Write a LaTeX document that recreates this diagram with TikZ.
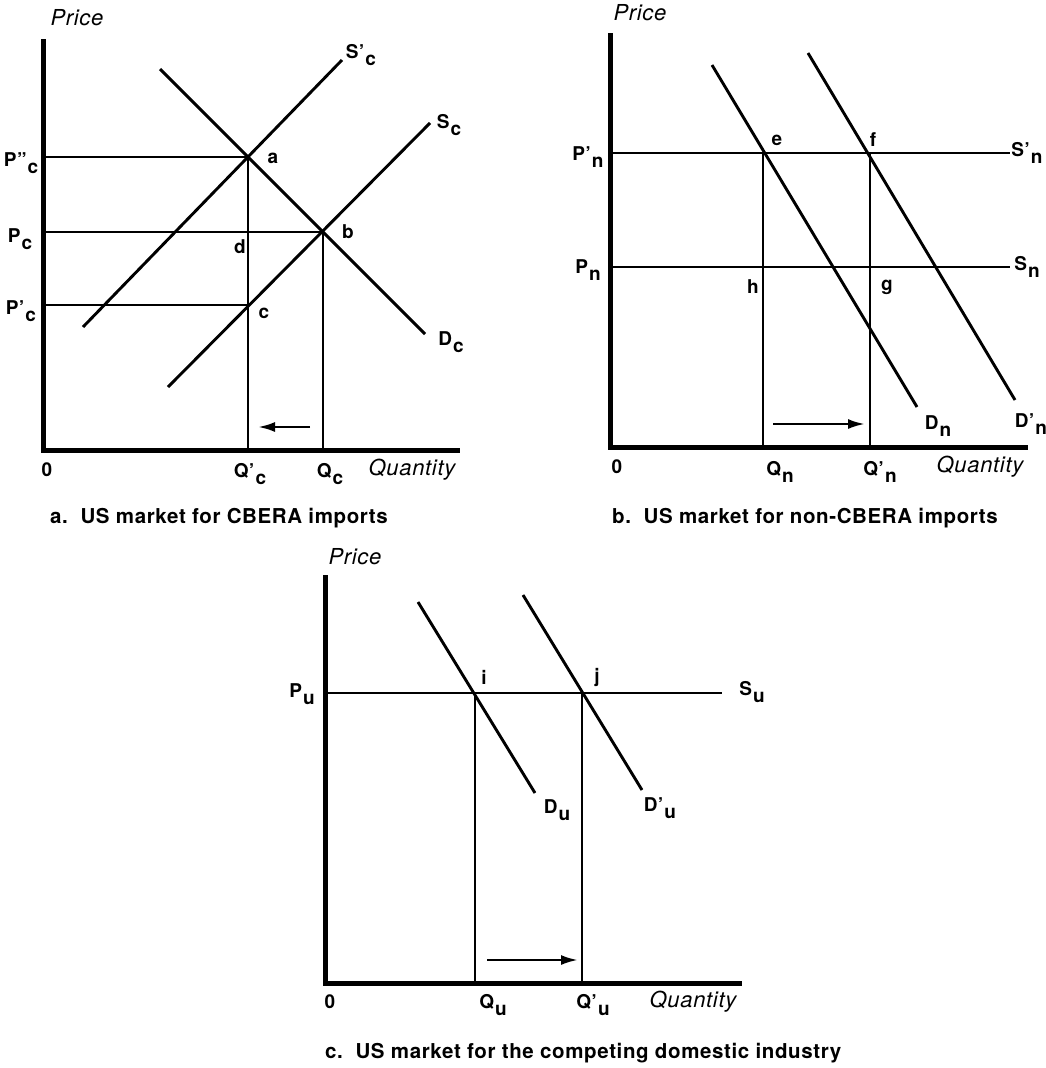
\documentclass[tikz,border=0pt]{standalone}
\usepackage{fontspec}
\setmainfont[LetterSpace=3]{TeX Gyre Heros}
\usetikzlibrary{arrows.meta}
\tikzset{
  axis/.style={line width=5pt, line join=miter},
  curve/.style={line width=2.9pt},
  guide/.style={line width=2.7pt},
  shiftarrow/.style={line width=2.6pt, -{Latex[length=17pt,width=10pt]}},
  ptlabel/.style={font=\fontsize{19}{21}\selectfont\bfseries, inner sep=0pt},
  axlabel/.style={font=\fontsize{22}{24}\selectfont\itshape, inner sep=0pt},
  caption/.style={font=\fontsize{20.5}{23}\selectfont\bfseries, anchor=west, inner sep=0pt}
}
\newcommand\sub[1]{\kern1pt\raisebox{-0.7ex}{#1}}

\begin{document}
\begin{tikzpicture}[x=1pt,y=-1pt]
  \path[use as bounding box] (0,0) rectangle (1045,1068);

  % a. CBERA imports
  \coordinate (Oa) at (43,450);
  \coordinate (Ya) at (43,39);
  \coordinate (Xa) at (460,450);
  \coordinate (a) at (248,157);
  \coordinate (b) at (323,232);
  \coordinate (c) at (249,305);
  \coordinate (Dc1) at (160,69);  \coordinate (Dc2) at (425,334);
  \coordinate (Sca1) at (83,327); \coordinate (Sca2) at (342,60);
  \coordinate (Sc1) at (168,387); \coordinate (Sc2) at (430,123);
  \coordinate (arA1) at (310,427); \coordinate (arA2) at (258,427);

  \draw[axis] (Ya) -- (Oa) -- (Xa);
  \draw[curve] (Dc1) -- (Dc2);
  \draw[curve] (Sca1) -- (Sca2);
  \draw[curve] (Sc1) -- (Sc2);
  \draw[guide] (Oa |- a) -- (a) -- (a |- Oa);
  \draw[guide] (Oa |- b) -- (b) -- (b |- Oa);
  \draw[guide] (Oa |- c) -- (c);
  \draw[shiftarrow] (arA1) -- (arA2);

  \node[axlabel] (priceA) at (77,18) {Price};
  \node[axlabel] (qtyA) at (412,470) {Quantity};
  \node[ptlabel] (zeroA) at (47,470) {0};
  \node[ptlabel] (Ppp) at (21,163) {P"\sub{c}};
  \node[ptlabel] (Pc) at (20,239) {P\sub{c}};
  \node[ptlabel] (Pp) at (21,311) {P'\sub{c}};
  \node[ptlabel] (Qp) at (250,474) {Q'\sub{c}};
  \node[ptlabel] (Qc) at (330,474) {Q\sub{c}};
  \node[ptlabel] (la) at (273,158) {a};
  \node[ptlabel] (lb) at (348,232) {b};
  \node[ptlabel] (lc) at (264,313) {c};
  \node[ptlabel] (ld) at (240,247) {d};
  \node[ptlabel] (lSp) at (361,55) {S'\sub{c}};
  \node[ptlabel] (lS) at (449,125) {S\sub{c}};
  \node[ptlabel] (lD) at (451,342) {D\sub{c}};
  \node[caption] (capA) at (50,518) {a.\ \ US market for CBERA imports};

  % b. non-CBERA imports
  \coordinate (Ob) at (610,447);
  \coordinate (Yb) at (610,33);
  \coordinate (Xb) at (1028,447);
  \coordinate (e) at (763,153);
  \coordinate (f) at (870,153);
  \coordinate (h) at (763,267);
  \coordinate (g) at (870,267);
  \coordinate (Snp) at (1010,153);
  \coordinate (Sn) at (1010,267);
  \coordinate (Dn1) at (712,65);  \coordinate (Dn2) at (917,407);
  \coordinate (Dnp1) at (808,53); \coordinate (Dnp2) at (1015,400);
  \coordinate (arB1) at (773,424); \coordinate (arB2) at (865,424);

  \draw[axis] (Yb) -- (Ob) -- (Xb);
  \draw[curve] (Dn1) -- (Dn2);
  \draw[curve] (Dnp1) -- (Dnp2);
  \draw[guide] (Ob |- Snp) -- (Snp);
  \draw[guide] (Ob |- Sn) -- (Sn);
  \draw[guide] (e) -- (e |- Ob);
  \draw[guide] (f) -- (f |- Ob);
  \draw[shiftarrow] (arB1) -- (arB2);

  \node[axlabel] (priceB) at (640,13) {Price};
  \node[axlabel] (qtyB) at (980,467) {Quantity};
  \node[ptlabel] (zeroB) at (617,467) {0};
  \node[ptlabel] (Pnp) at (588,157) {P'\sub{n}};
  \node[ptlabel] (Pn) at (588,270) {P\sub{n}};
  \node[ptlabel] (Qn) at (780,472) {Q\sub{n}};
  \node[ptlabel] (Qnp) at (880,472) {Q'\sub{n}};
  \node[ptlabel] (le) at (777,140) {e};
  \node[ptlabel] (lf) at (873,140) {f};
  \node[ptlabel] (lh) at (753,287) {h};
  \node[ptlabel] (lg) at (887,287) {g};
  \node[ptlabel] (lSnp) at (1027,153) {S'\sub{n}};
  \node[ptlabel] (lSn) at (1027,267) {S\sub{n}};
  \node[ptlabel] (lDn) at (938,426) {D\sub{n}};
  \node[ptlabel] (lDnp) at (1031,424) {D'\sub{n}};
  \node[caption] (capB) at (612,518) {b.\ \ US market for non-CBERA imports};

  % c. competing domestic industry
  \coordinate (Oc) at (325,983);
  \coordinate (Yc) at (325,575);
  \coordinate (Xc) at (742,983);
  \coordinate (i) at (475,693);
  \coordinate (j) at (582,693);
  \coordinate (Su) at (722,693);
  \coordinate (Du1) at (418,602);  \coordinate (Du2) at (535,793);
  \coordinate (Dup1) at (523,595); \coordinate (Dup2) at (642,790);
  \coordinate (arC1) at (487,960); \coordinate (arC2) at (578,960);

  \draw[axis] (Yc) -- (Oc) -- (Xc);
  \draw[curve] (Du1) -- (Du2);
  \draw[curve] (Dup1) -- (Dup2);
  \draw[guide] (Oc |- Su) -- (Su);
  \draw[guide] (i) -- (i |- Oc);
  \draw[guide] (j) -- (j |- Oc);
  \draw[shiftarrow] (arC1) -- (arC2);

  \node[axlabel] (priceC) at (355,557) {Price};
  \node[axlabel] (qtyC) at (693,1002) {Quantity};
  \node[ptlabel] (zeroC) at (330,1002) {0};
  \node[ptlabel] (Pu) at (302,694) {P\sub{u}};
  \node[ptlabel] (Qu) at (493,1005) {Q\sub{u}};
  \node[ptlabel] (Qup) at (593,1005) {Q'\sub{u}};
  \node[ptlabel] (li) at (484,677) {i};
  \node[ptlabel] (lj) at (597,677) {j};
  \node[ptlabel] (lSu) at (752,692) {S\sub{u}};
  \node[ptlabel] (lDu) at (557,810) {D\sub{u}};
  \node[ptlabel] (lDup) at (660,808) {D'\sub{u}};
  \node[caption] (capC) at (325,1053) {c.\ \ US market for the competing domestic industry};
\end{tikzpicture}
\end{document}
